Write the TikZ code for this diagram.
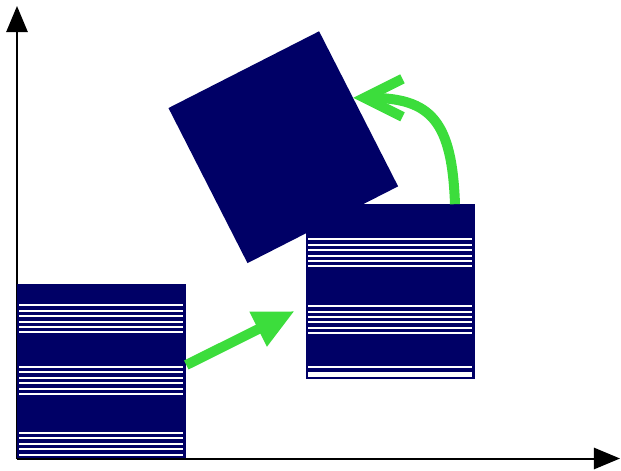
\documentclass[tikz,border=0pt]{standalone}
\usepackage{tikz}
\usetikzlibrary{arrows.meta,calc}
\definecolor{navy}{RGB}{0,0,102}
\definecolor{movegreen}{RGB}{60,221,60}

\begin{document}
\begin{tikzpicture}[x=0.025cm, y=0.025cm,
    box/.style={fill=navy, inner sep=0pt, minimum width=4.225cm, minimum height=4.35cm},
    stripe/.style={draw=white, line width=0.05cm},
    axis/.style={line width=0.05cm, -{Triangle[length=0.65cm, width=0.53cm]}},
    shift move/.style={movegreen, line width=0.25cm, -{Triangle[length=1.02cm, width=0.9cm]}},
    turn move/.style={movegreen, line width=0.25cm, -{Straight Barb[length=0.95cm, width=0.95cm]}}]
  \useasboundingbox (0,0) rectangle (621,470);

  \coordinate (origin) at (17,11.5);
  \draw[axis] (origin) -- (17,464);
  \draw[axis] (origin) -- (620,11.5);

  \node[box, rotate=27] (turned) at (283.3,322.8) {};

  \node[box] (start) at (101.5,99) {};
  \foreach \s in {21.7,83.3}
    \foreach \k in {0,...,5}
      \draw[stripe] ($(start.north west)+(2.5,{-\s-5.4*\k})$) -- ++(164,0);
  \foreach \k in {0,...,4}
    \draw[stripe] ($(start.north west)+(2.5,{-149.3-5.4*\k})$) -- ++(164,0);

  \node[box] (moved) at (390.5,178.5) {};
  \foreach \s in {35.3,102}
    \foreach \k in {0,...,5}
      \draw[stripe] ($(moved.north west)+(2.5,{-\s-5.4*\k})$) -- ++(164,0);
  \draw[stripe] ($(moved.north west)+(2.5,-163)$) -- ++(164,0);
  \draw[stripe, line width=0.125cm] ($(moved.north west)+(2.5,-170.2)$) -- ++(164,0);

  \draw[shift move] ($(start.east)+(0,6)$) -- ($(moved.west)+(-11,-19.5)$);
  \draw[turn move] ($(moved.north)+(64.5,0)$)
    .. controls +(-3,83) and +(78,0) .. ($(turned.east)!0.14!(turned.north east)$);
\end{tikzpicture}
\end{document}
